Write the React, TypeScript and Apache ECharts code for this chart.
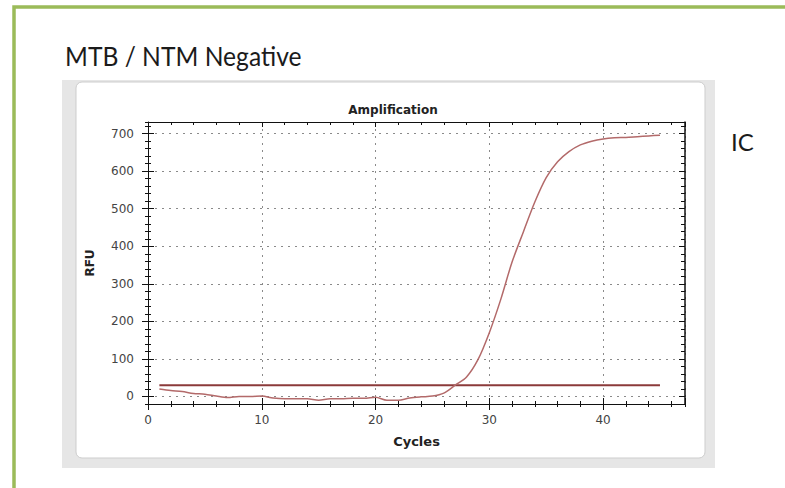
import React, { useEffect, useRef } from "react";
import * as echarts from "echarts";

// ---- data ----
const cycles = [
  1, 2, 3, 4, 5, 6, 7, 8, 9, 10, 11, 12, 13, 14, 15, 16, 17, 18, 19, 20, 21, 22, 23,
  24, 25, 26, 27, 28, 29, 30, 31, 32, 33, 34, 35, 36, 37, 38, 39, 40, 41, 42, 43, 44, 45,
];
const icRfu = [
  20, 16, 13, 8, 6, 1, -3, 0, 0, 1, -4, -6, -6, -6, -10, -6, -6, -5, -5, -2, -10, -10, -4,
  -1, 1, 9, 30, 52, 98, 170, 258, 358, 439, 518, 583, 625, 652, 670, 680, 686, 689, 690,
  692, 694, 696,
];
const thresholdRfu = 30;
const chartTitle = "Amplification";
const panelTitle = "MTB / NTM Negative";
const channelLabel = "IC";
const xAxisName = "Cycles";
const yAxisName = "RFU";

const X_MIN = 0;
const X_MAX = 47.2;
const Y_MIN = -20;
const Y_MAX = 731;

const FONT = "DejaVu Sans";

export default function App() {
  const ref = useRef<HTMLDivElement>(null);

  useEffect(() => {
    if (!ref.current) return;
    document.body.style.margin = "0";
    const chart = echarts.init(ref.current, undefined, { renderer: "svg" });

    const hidden = {
      axisLine: { show: false, onZero: false },
      axisLabel: { show: false },
      splitLine: { show: false },
    };
    const tick = (len: number, inside: boolean) => ({
      show: true,
      inside,
      length: len,
      lineStyle: { color: "#111", width: 1 },
    });

    const xAxes: any[] = [
      {
        type: "value",
        position: "bottom",
        min: X_MIN,
        max: X_MAX,
        interval: 10,
        name: xAxisName,
        nameLocation: "middle",
        nameGap: 31,
        nameTextStyle: { fontFamily: FONT, fontWeight: "bold", fontSize: 13, color: "#222" },
        axisLine: { show: true, onZero: false, lineStyle: { color: "#111", width: 1 } },
        axisTick: tick(6, false),
        axisLabel: {
          show: true,
          margin: 10,
          fontFamily: FONT,
          fontSize: 12,
          color: "#444",
          showMaxLabel: false,
        },
        splitLine: { show: true, lineStyle: { color: "#8a8a8a", type: [2, 5], width: 1 } },
      },
      { type: "value", position: "bottom", min: X_MIN, max: X_MAX, interval: 10, ...hidden, axisTick: tick(6, true) },
      { type: "value", position: "bottom", min: X_MIN, max: X_MAX, interval: 2, ...hidden, axisTick: tick(3, false) },
      { type: "value", position: "bottom", min: X_MIN, max: X_MAX, interval: 2, ...hidden, axisTick: tick(3, true) },
      {
        type: "value",
        position: "top",
        min: X_MIN,
        max: X_MAX,
        interval: 10,
        axisLine: { show: true, onZero: false, lineStyle: { color: "#111", width: 1 } },
        axisLabel: { show: false },
        splitLine: { show: false },
        axisTick: tick(5, true),
      },
      { type: "value", position: "top", min: X_MIN, max: X_MAX, interval: 2, ...hidden, axisTick: tick(3, true) },
    ];

    const yAxes: any[] = [
      {
        type: "value",
        position: "left",
        min: Y_MIN,
        max: Y_MAX,
        splitNumber: 8,
        name: yAxisName,
        nameLocation: "middle",
        nameGap: 52,
        nameTextStyle: { fontFamily: FONT, fontWeight: "bold", fontSize: 12, color: "#222" },
        axisLine: { show: true, onZero: false, lineStyle: { color: "#111", width: 1 } },
        axisTick: tick(6, false),
        axisLabel: {
          show: true,
          margin: 14,
          fontFamily: FONT,
          fontSize: 12,
          color: "#444",
          showMinLabel: false,
          showMaxLabel: false,
        },
        splitLine: { show: true, lineStyle: { color: "#8a8a8a", type: [2, 5], width: 1 } },
      },
      { type: "value", position: "left", min: Y_MIN, max: Y_MAX, splitNumber: 8, ...hidden, axisTick: tick(6, true) },
      { type: "value", position: "left", min: Y_MIN, max: Y_MAX, interval: 20, ...hidden, axisTick: tick(3, false) },
      { type: "value", position: "left", min: Y_MIN, max: Y_MAX, interval: 20, ...hidden, axisTick: tick(3, true) },
      {
        type: "value",
        position: "right",
        min: Y_MIN,
        max: Y_MAX,
        splitNumber: 8,
        axisLine: { show: true, onZero: false, lineStyle: { color: "#111", width: 1.5 } },
        axisLabel: { show: false },
        splitLine: { show: false },
        axisTick: tick(6, true),
      },
      { type: "value", position: "right", min: Y_MIN, max: Y_MAX, interval: 20, ...hidden, axisTick: tick(4, true) },
    ];

    chart.setOption({
      animation: false,
      backgroundColor: "#ffffff",
      title: {
        text: chartTitle,
        left: 388,
        top: 99,
        textAlign: "center",
        textStyle: { fontFamily: FONT, fontWeight: "bold", fontSize: 12, color: "#222" },
      },
      grid: { left: 148, right: 100, top: 122, bottom: 84, containLabel: false },
      xAxis: xAxes,
      yAxis: yAxes,
      graphic: [
        {
          type: "rect",
          z: -20,
          shape: { x: 14, y: 7, width: 900, height: 700 },
          style: { fill: "#ffffff", stroke: "#9bbb59", lineWidth: 3.5 },
        },
        {
          type: "rect",
          z: -19,
          shape: { x: 62, y: 80, width: 653, height: 388 },
          style: { fill: "#e6e6e6" },
        },
        {
          type: "rect",
          z: -18,
          shape: { x: 76, y: 82, width: 629, height: 376, r: 6 },
          style: { fill: "#ffffff", stroke: "#cdcdcd", lineWidth: 1 },
        },
        {
          type: "text",
          z: 10,
          x: 65,
          y: 56,
          scaleX: 0.948,
          style: {
            text: panelTitle,
            fontFamily: "Lato",
            fontSize: 26,
            fill: "#1b1b1b",
            verticalAlign: "middle",
          },
        },
        {
          type: "text",
          z: 10,
          x: 731,
          y: 141,
          style: {
            text: channelLabel,
            fontFamily: "Lato",
            fontSize: 24,
            fill: "#1b1b1b",
            verticalAlign: "middle",
          },
        },
      ],
      series: [
        {
          name: "Threshold",
          type: "line",
          xAxisIndex: 0,
          yAxisIndex: 0,
          symbol: "none",
          silent: true,
          z: 3,
          lineStyle: { color: "#8b3a3a", width: 2 },
          data: [
            [cycles[0], thresholdRfu],
            [cycles[cycles.length - 1], thresholdRfu],
          ],
        },
        {
          name: "IC",
          type: "line",
          xAxisIndex: 0,
          yAxisIndex: 0,
          symbol: "none",
          smooth: 0.3,
          z: 4,
          lineStyle: { color: "#b36a6a", width: 1.5 },
          data: cycles.map((c, i) => [c, icRfu[i]]),
        },
      ],
    });

    return () => chart.dispose();
  }, []);

  return (
    <div
      ref={ref}
      style={{ position: "fixed", left: 0, top: 0, width: 785, height: 488 }}
    />
  );
}
